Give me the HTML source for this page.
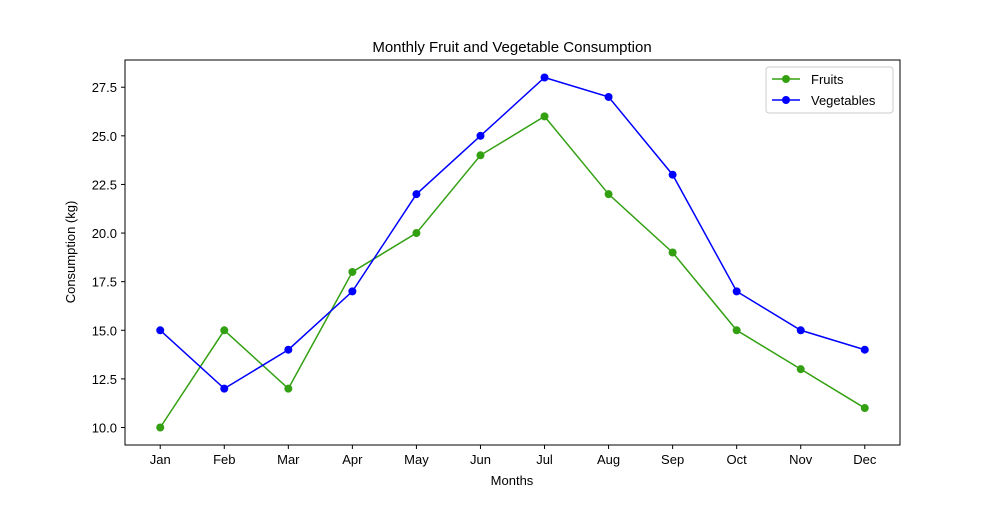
<!DOCTYPE html>
<html><head><meta charset="utf-8"><style>
body{margin:0;background:#fff;}
svg text{font-family:"Liberation Sans","DejaVu Sans",sans-serif;fill:#000;}
</style></head><body>
<svg id="chart" width="1000" height="500" xmlns="http://www.w3.org/2000/svg">
<rect width="1000" height="500" fill="#fff"/>
<text x="512" y="52" font-size="15" text-anchor="middle">Monthly Fruit and Vegetable Consumption</text>
<g id="axes"></g>
<g id="marks"></g>
<rect x="125" y="60" width="775" height="385" fill="none" stroke="#000" stroke-width="1"/>
<text x="512" y="485" font-size="13" text-anchor="middle">Months</text>
<text transform="translate(75,252) rotate(-90)" font-size="13" text-anchor="middle">Consumption (kg)</text>
<g>
<rect x="766" y="67" width="127" height="46" rx="3" fill="#fff" stroke="#ccc"/>
<g>
<line x1="772" y1="79" x2="800" y2="79" stroke="#33a012" stroke-width="1.5"/><circle cx="786" cy="79" r="4" fill="#33a012"/>
<text x="811" y="84" font-size="13">Fruits</text></g>
<g>
<line x1="772" y1="100" x2="800" y2="100" stroke="#0000ff" stroke-width="1.5"/><circle cx="786" cy="100" r="4" fill="#0000ff"/>
<text x="811" y="105" font-size="13">Vegetables</text></g>
</g>
</svg>
<script>
const months=["Jan","Feb","Mar","Apr","May","Jun","Jul","Aug","Sep","Oct","Nov","Dec"];
const fruits=[10,15,12,18,20,24,26,22,19,15,13,11];
const vegetables=[15,12,14,17,22,25,28,27,23,17,15,14];
const yTicks=[10.0,12.5,15.0,17.5,20.0,22.5,25.0,27.5];
const NS="http://www.w3.org/2000/svg";
const L=125,R=900,T=60,B=445;
const xMin=-0.55,xMax=11.55,yMin=9.1,yMax=28.9;
function xs(i){return L+(i-xMin)/(xMax-xMin)*(R-L);}
function ys(v){return B-(v-yMin)/(yMax-yMin)*(B-T);}
function mk(tag,attrs,parent){const e=document.createElementNS(NS,tag);for(const k in attrs)e.setAttribute(k,attrs[k]);parent.appendChild(e);return e;}
const axes=document.getElementById('axes'),marks=document.getElementById('marks');
months.forEach((m,i)=>{
  const t=mk('line',{x1:xs(i),x2:xs(i),y1:B,y2:B+4,stroke:'#000'},axes);
  
  
  const tx=mk('text',{x:xs(i),y:B+19,'font-size':13,'text-anchor':'middle'},axes);
  tx.textContent=m;
  
  
});
yTicks.forEach(v=>{
  const t=mk('line',{x1:L-4,x2:L,y1:ys(v),y2:ys(v),stroke:'#000'},axes);
  
  
  const tx=mk('text',{x:L-8,y:ys(v)+5,'font-size':13,'text-anchor':'end'},axes);
  tx.textContent=v.toFixed(1);
  
  
});
function series(data,color,name){
  const g=mk('g',{},marks);
  
  
  const pl=mk('polyline',{points:data.map((v,i)=>xs(i)+','+ys(v)).join(' '),fill:'none',stroke:color,'stroke-width':1.5},g);
  
  
  data.forEach((v,i)=>{
    const c=mk('circle',{cx:xs(i),cy:ys(v),r:4,fill:color},g);
    
    
  });
}
series(fruits,'#33a012','fruits');
series(vegetables,'#0000ff','vegetables');
</script>
</body></html>
